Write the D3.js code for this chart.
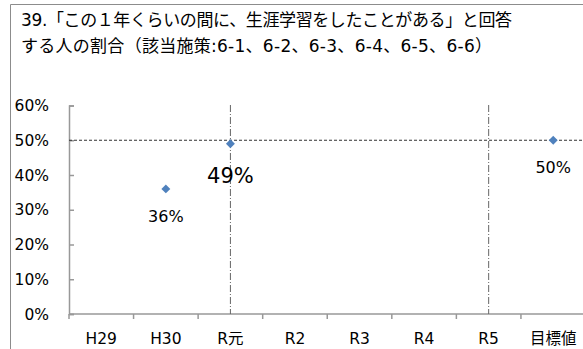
<!DOCTYPE html>
<html><head><meta charset="utf-8">
<script src="https://cdn.jsdelivr.net/npm/d3@7"></script>
<style>
html,body{margin:0;padding:0;background:#fff;}
svg{display:block;font-family:"DejaVu Sans","Noto Sans CJK JP",sans-serif;}
</style></head>
<body>
<svg id="chart" width="583" height="349"></svg>
<script>
const titleLines = ["39.「この１年くらいの間に、生涯学習をしたことがある」と回答", "する人の割合（該当施策:6-1、6-2、6-3、6-4、6-5、6-6）"];
const categories = ["H29", "H30", "R元", "R2", "R3", "R4", "R5", "目標値"];
const values = [null, 0.36, 0.49, null, null, null, null, 0.50];
const labels = [null, "36%", "49%", null, null, null, null, "50%"];
const yTicks = [0, 0.1, 0.2, 0.3, 0.4, 0.5, 0.6];
const targetValue = 0.5;
const markerCategories = ["R元", "R5"];

const svg = d3.select("#chart");
// frame
svg.append("path").attr("d", "M10.5,349 V4.5 H583").attr("fill", "none").attr("stroke", "#8c8c8c").attr("stroke-width", 1);

// title
const title = svg.append("g").selectAll("text").data(titleLines).join("text")
  .attr("x", 21).attr("y", (d, i) => 26 + i * 26)
  .attr("font-size", 17).attr("fill", "#000").text(d => d);
title.filter((d, i) => i === 0).attr("textLength", 491).attr("lengthAdjust", "spacing");
title.filter((d, i) => i === 1).attr("textLength", 471).attr("lengthAdjust", "spacing");

const x = d3.scaleBand().domain(categories).range([69, 585.5]);
const y = d3.scaleLinear().domain([0, 0.6]).range([314, 105.5]);

// y axis
const yAxis = svg.append("g").attr("transform", "translate(69,0)")
  .call(d3.axisRight(y).tickValues(yTicks).tickSize(5).tickFormat(""));
yAxis.select(".domain").attr("stroke", "#989898").attr("stroke-width", 1.5);
yAxis.selectAll(".tick line").attr("stroke", "#989898").attr("stroke-width", 1.5);
svg.append("g").selectAll("text").data(yTicks).join("text")
  .attr("x", 49).attr("y", d => y(d)).attr("dy", "0.36em")
  .attr("text-anchor", "end").attr("font-size", 15.5).attr("fill", "#000")
  .text(d => d3.format(".0%")(d));

// x axis
const xTickPos = categories.map(c => x(c));
const xAxis = svg.append("g").attr("transform", "translate(0,314)");
xAxis.append("line").attr("x1", 69).attr("x2", 583).attr("stroke", "#989898").attr("stroke-width", 1.5);
xAxis.selectAll("line.t").data(xTickPos).join("line").attr("class", "t")
  .attr("x1", d => d).attr("x2", d => d).attr("y1", 0).attr("y2", 5)
  .attr("stroke", "#989898").attr("stroke-width", 1.5);
svg.append("g").selectAll("text").data(categories).join("text")
  .attr("x", d => x(d) + x.bandwidth() / 2).attr("y", 344)
  .attr("text-anchor", "middle").attr("font-size", 15.5).attr("fill", "#000").text(d => d);

// target horizontal dashed line
svg.append("line").attr("x1", 69).attr("x2", 583).attr("y1", y(targetValue)).attr("y2", y(targetValue))
  .attr("stroke", "#333").attr("stroke-width", 1).attr("stroke-dasharray", "3,2");

// vertical dash-dot lines
svg.append("g").selectAll("line").data(markerCategories).join("line")
  .attr("x1", d => x(d) + x.bandwidth() / 2).attr("x2", d => x(d) + x.bandwidth() / 2)
  .attr("y1", 105).attr("y2", 314)
  .attr("stroke", "#666").attr("stroke-width", 1).attr("stroke-dasharray", "7,2,1,2");

// points
const pts = categories.map((c, i) => ({c, v: values[i], l: labels[i]})).filter(d => d.v !== null);
svg.append("g").selectAll("path").data(pts).join("path")
  .attr("d", d3.symbol(d3.symbolSquare, 40))
  .attr("transform", d => `translate(${x(d.c) + x.bandwidth() / 2},${y(d.v)}) rotate(45)`)
  .attr("fill", "#4F81BD");

svg.append("g").selectAll("text").data(pts).join("text")
  .attr("x", d => x(d.c) + x.bandwidth() / 2)
  .attr("y", d => d.c === "R元" ? y(d.v) + 39 : y(d.v) + 33)
  .attr("text-anchor", "middle")
  .attr("font-size", d => d.c === "R元" ? 21 : 16)
  .attr("fill", "#000").text(d => d.l);
</script>
</body></html>
